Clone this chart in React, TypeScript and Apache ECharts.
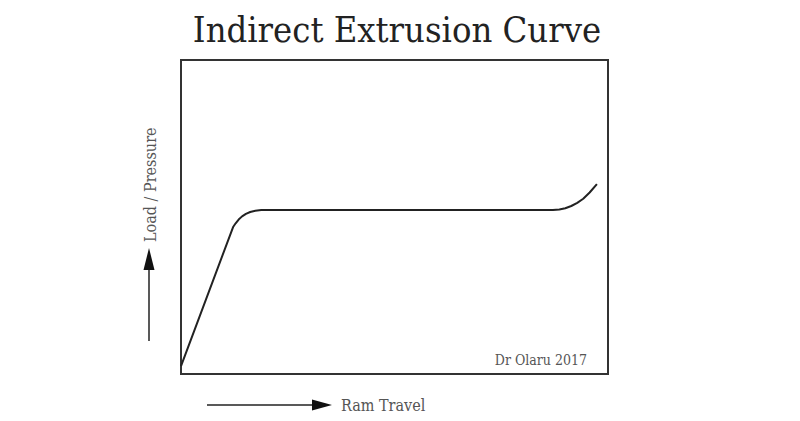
import { useEffect, useRef } from 'react'
import * as echarts from 'echarts'

// ram travel (0-100) and load (0-100)
const travel = [0, 12.2, 12.8, 13.5, 14.3, 15.2, 16.2, 17.4, 18.8, 20.3, 87.1, 88.6, 90.0, 91.4, 92.8, 94.2, 95.7, 97.4]
const load = [2.5, 46.8, 48.0, 49.2, 50.2, 51.0, 51.6, 52.0, 52.2, 52.2, 52.2, 52.4, 52.8, 53.5, 54.5, 55.8, 57.8, 60.5]

const titleText = 'Indirect Extrusion Curve'
const yName = 'Load / Pressure'
const xName = 'Ram Travel'
const credit = 'Dr Olaru 2017'

const slab = '"DejaVu Serif Condensed", "DejaVu Serif", serif'

const App = () => {
  const chartRef = useRef<HTMLDivElement>(null)

  useEffect(() => {
    if (!chartRef.current) return
    const chart = echarts.init(chartRef.current, null, { renderer: 'svg' })

    const option = {
      animation: false,
      backgroundColor: '#fff',
      grid: {
        left: 181, top: 60, width: 427, height: 314,
        show: true, borderColor: '#333', borderWidth: 2, backgroundColor: 'transparent'
      },
      xAxis: {
        type: 'value', min: 0, max: 100,
        axisLine: { show: false }, axisTick: { show: false },
        axisLabel: { show: false }, splitLine: { show: false }
      },
      yAxis: {
        type: 'value', min: 0, max: 100,
        axisLine: { show: false }, axisTick: { show: false },
        axisLabel: { show: false }, splitLine: { show: false }
      },
      series: [
        {
          type: 'line',
          data: travel.map((x, i) => [x, load[i]]),
          showSymbol: false,
          smooth: false,
          lineStyle: { color: '#222', width: 2, join: 'round' }
        }
      ],
      graphic: [
        {
          type: 'text', x: 397, y: 11,
          style: { text: titleText, font: `36px ${slab}`, fill: '#222', align: 'center' }
        },
        {
          type: 'text', x: 587, y: 360,
          style: { text: credit, font: `14px ${slab}`, fill: '#555', align: 'right', verticalAlign: 'middle' }
        },
        // x arrow
        {
          type: 'line',
          shape: { x1: 207, y1: 405, x2: 320, y2: 405 },
          style: { stroke: '#222', lineWidth: 1.5 }
        },
        {
          type: 'polygon',
          shape: { points: [[332, 405], [312, 399.5], [312, 410.5]] },
          style: { fill: '#111' }
        },
        {
          type: 'text', x: 341, y: 405,
          style: { text: xName, font: `16px ${slab}`, fill: '#555', verticalAlign: 'middle' }
        },
        // y arrow
        {
          type: 'line',
          shape: { x1: 149, y1: 341, x2: 149, y2: 262 },
          style: { stroke: '#222', lineWidth: 1.5 }
        },
        {
          type: 'polygon',
          shape: { points: [[149, 248], [143.5, 270], [154.5, 270]] },
          style: { fill: '#111' }
        },
        {
          type: 'text', x: 150, y: 242, rotation: Math.PI / 2,
          style: { text: yName, font: `16px ${slab}`, fill: '#555', verticalAlign: 'middle', align: 'left' }
        }
      ]
    }
    chart.setOption(option)
    return () => chart.dispose()
  }, [])

  return (
    <div
      ref={chartRef}
      style={{ position: 'fixed', left: 0, top: 0, width: 800, height: 421 }}
    />
  )
}

export default App
